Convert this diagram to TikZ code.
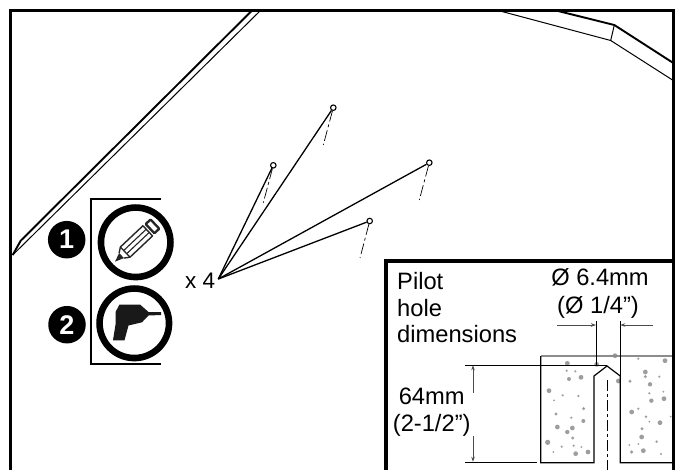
\documentclass[tikz,border=0pt]{standalone}
\usepackage{fontspec}
\setmainfont{Liberation Sans}
\usetikzlibrary{arrows.meta}
\tikzset{
  frameline/.style={line width=3pt,line cap=butt},
  thickedge/.style={line width=1.9pt,line join=miter},
  thinedge/.style={line width=1pt,line join=miter},
  dashline/.style={line width=0.7pt,dash pattern=on 11pt off 3pt on 3pt off 3pt},
  screwhole/.style={circle,draw,line width=1.1pt,fill=white,minimum size=5.5pt,inner sep=0pt},
  fanline/.style={line width=1.3pt},
  label/.style={font=\fontsize{23.7}{27}\selectfont,inner sep=0pt,anchor=base},
  ringnode/.style={circle,draw,line width=6.6pt,minimum size=69.5pt,inner sep=0pt},
  bullet/.style={circle,fill=black,minimum size=37.5pt,inner sep=0pt,text=white,font=\fontsize{27}{27}\bfseries\selectfont},
  dimline/.style={line width=0.9pt},
  dimarrow/.style={line width=0.8pt,-{Stealth[length=5pt,width=3.5pt]}},
  blockline/.style={line width=1.2pt,line join=miter},
  speck/.style={fill=black!38,draw=none},
}
\begin{document}
\begin{tikzpicture}[x=1pt,y=-1pt]
\useasboundingbox[fill=white] (0,0) rectangle (679,470);
% outer frame
\draw[frameline] (10.5,470) -- (10.5,10.5) -- (673.5,10.5) -- (673.5,470);
% top-left edge
\draw[thickedge] (251.5,11) -- (20.7,240.7) -- (12.7,255);
\draw[thinedge] (260,11) -- (12.7,255);
% top-right edge
\draw[thickedge] (558,11) -- (614.3,25) -- (672.5,62.5);
\draw[thinedge] (500,11) -- (610.7,40.5) -- (672.5,80);
\draw[thinedge] (614.3,25) -- (610.7,40.5);
% bracket
\draw[line width=1.9pt] (161,199) -- (90.7,199) -- (90.7,364) -- (161,364);
% rings and bullets
\node[ringnode] (penring) at (135.7,242.3) {};
\node[ringnode] (drillring) at (134.3,323.3) {};
\node[bullet] (one) at (66.7,239.7) {1};
\node[bullet] (two) at (67,324.7) {2};
% pencil
\begin{scope}[shift={(115,261.7)},rotate=43.3]
  \fill[black!85] (0,0) -- (9,-3.5) -- (9,3.5) -- cycle;
  \draw[line width=1.4pt,line join=round,black!85] (9,-3.5) -- (14,-7) -- (45,-7) -- (45,7) -- (14,7) -- (9,3.5);
  \draw[line width=1.3pt,black!85] (14,-7) -- (14,7);
  \draw[line width=1.1pt,black!85] (14,-2.2) -- (45,-2.2) (14,2.2) -- (45,2.2);
  \fill[black!85,rounded corners=1.5pt] (47,-7.5) rectangle (56,7.5);
  \fill[white] (49.5,-5) rectangle (53.5,5);
\end{scope}
% drill
\fill[black!90] (113,340.3) -- (124.5,340.3) -- (128.5,325.5) -- (142,322.3) -- (148.5,315.5) -- (161,315) -- (161,312) -- (148.5,312) -- (140,304.5) -- (119.5,304.5) -- (115.7,311.7) -- (115.7,323.3) -- cycle;
% x 4 and fan
\node[label,anchor=base west,font=\fontsize{22.5}{27}\selectfont] (times) at (185,288) {x 4};
\coordinate (fan) at (218.3,279);
\node[screwhole] (p1) at (273.3,165.3) {};
\node[screwhole] (p2) at (333.3,107.7) {};
\node[screwhole] (p3) at (429.3,162.7) {};
\node[screwhole] (p4) at (369.7,221) {};
\coordinate (q1) at (263.3,202.7);
\coordinate (q2) at (323.3,145);
\coordinate (q3) at (419.3,200);
\coordinate (q4) at (360,258);
\foreach \n in {1,2,3,4}{
  \draw[fanline] (fan) -- (p\n);
  \draw[dashline] (p\n) -- (q\n);
}
% inset frame
\fill[white] (385,261) rectangle (672,470);
\draw[line width=3.6pt] (385.7,470) -- (385.7,260.7) -- (672.2,260.7);
\draw[frameline] (673.5,255) -- (673.5,470);
% inset texts
\node[label,anchor=base west] (t1) at (397,289) {Pilot};
\node[label,anchor=base west] (t2) at (397,316) {hole};
\node[label,anchor=base west] (t3) at (397,342.7) {dimensions};
\node[label] (d1) at (600,285) {Ø 6.4mm};
\node[label] (d2) at (598,313) {(Ø 1/4”)};
\node[label] (h1) at (431.7,404) {64mm};
\node[label] (h2) at (431.7,431.7) {(2-1/2”)};
% speckles
\foreach \a/\b/\r in {562/340/2.4,650/343/2.4,705/317/2.4,855/332/2.4,796/366/2.4,567/387/2,603/382/2.4,715/393/2.4,750/394/1.6,796/380/1.6,810/403/2.2,507/422/2.4,852/446/2.4,814/452/2.2,611/476/1.6,755/486/2.4,528/492/1.6,532/531/2.4,610/513/2,840/518/2.4,577/534/2.4,562/546/2.2,786/536/1.6,785/561/2.4,578/564/1.6,503/577/2.6,624/606/2.4,587/611/2.4,790/602/2.4,755/606/1.8,520/606/1,843/612/1.2,775/326/1.2,560/362/1.2,586/364/1.2,838/380/1.2,548/436/1.2,595/438/1.2,808/430/1.2,522/451/1,574/503/1.2,798/500/1.4,872/500/1,808/515/1,545/590/1.2,581/587/1.2,604/591/1,830/575/1.4,748/585/1,775/582/1,775/476/1.2,850/425/1}
  \fill[speck] ({380+\a/3},{250+\b/3}) circle (\r pt);
% concrete block
\draw[line width=1.1pt,draw=black!45] (540.7,356) -- (672,356);
\draw[blockline] (540.7,356) -- (540.7,462.7) -- (594,462.7) -- (594,376) -- (607,366) -- (620.3,376) -- (620.3,462.7) -- (672,462.7);
\draw[line width=0.9pt] (672,356) -- (672,462.7);
\draw[dashline] (607,380) -- (607,470);
% dimension: diameter
\coordinate (dl) at (596,325);
\coordinate (dr) at (620.3,325);
\draw[dimline] (596,321) -- (596,365);
\draw[dimline] (620.3,321) -- (620.3,376);
\coordinate (dlstart) at (557,325);
\coordinate (drstart) at (653,325);
\draw[dimarrow,draw=black!70] (dlstart) -- (dl);
\draw[dimarrow,draw=black!70] (drstart) -- (dr);
% dimension: depth
\draw[line width=0.9pt] (465,365) -- (607,365);
\draw[dimline] (465,462) -- (537,462);
\draw[dimarrow,draw=black!70] (473,393) -- (473,365.3);
\draw[dimarrow,draw=black!70] (473,436) -- (473,461.7);
\end{tikzpicture}
\end{document}
